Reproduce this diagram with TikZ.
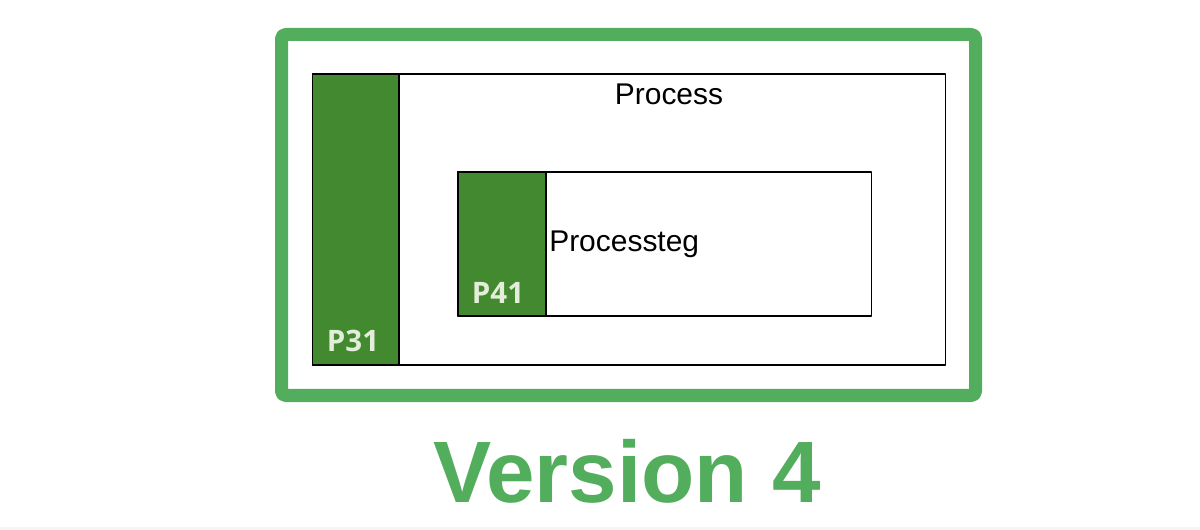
\documentclass[tikz,border=0pt]{standalone}
\usepackage{fontspec}
\setmainfont{Liberation Sans}
\newfontfamily\labelfont{Open Sans}
\definecolor{framegreen}{RGB}{82,173,92}
\definecolor{darkgreen}{RGB}{67,137,47}
\definecolor{labelwhite}{RGB}{226,238,218}
\begin{document}
\begin{tikzpicture}[x=0.025cm, y=-0.025cm, line join=round, line cap=round,
		box/.style={draw=black, line width=0.8pt, fill=white, inner sep=0pt, outer sep=0pt},
		tab/.style={draw=black, line width=0.8pt, fill=darkgreen, inner sep=0pt, outer sep=0pt},
		tabtext/.style={text=labelwhite, font=\labelfont\bfseries\fontsize{21}{24}\selectfont, anchor=base, inner sep=0pt},
		boxtext/.style={font=\fontsize{21.3}{24}\selectfont, inner sep=0pt}]
		\useasboundingbox (0,0) rectangle (1200,530);
		\fill[gray!8] (0,527) rectangle (1200,530);
		% outer frame
		\draw[framegreen, line width=0.325cm, rounded corners=3pt] (281.5,34.5) rectangle (975.5,395.5);
		% process with its tab
		\node[box, minimum width=15.8cm, minimum height=7.275cm] (process) at (629,219.5) {};
		\node[tab, minimum width=2.15cm, minimum height=7.275cm, anchor=north west] (p31) at (process.north west) {};
		\node[boxtext, anchor=base] (processname) at (669,105) {Process};
		\node[tabtext] (p31name) at (353,351) {P31};
		% process step with its tab
		\node[box, minimum width=10.325cm, minimum height=3.6cm] (step) at (664.5,244) {};
		\node[tab, minimum width=2.2cm, minimum height=3.6cm, anchor=north west] (p41) at (step.north west) {};
		\node[boxtext, anchor=base west] (stepname) at (549,252) {Processteg};
		\node[tabtext] (p41name) at (498,303) {P41};
		% caption
		\node[text=framegreen, font=\bfseries\fontsize{62}{70}\selectfont, anchor=base, inner sep=0pt] (version) at (627,502) {Version 4};
\end{tikzpicture}
\end{document}
